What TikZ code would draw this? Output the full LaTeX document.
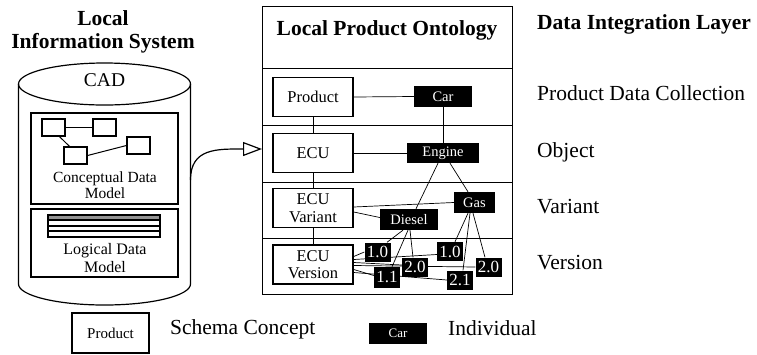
\documentclass[tikz,border=0pt]{standalone}
\usepackage{fontspec}
\setmainfont{Liberation Serif}
\usetikzlibrary{arrows.meta,backgrounds}
\newcommand{\fsz}[1]{\fontsize{#1}{1.07\dimexpr #1pt\relax}\selectfont}
\tikzset{
  schema/.style={draw, line width=1.5pt, minimum width=80, minimum height=39, inner sep=1pt, align=center, font=\fsz{16.5}},
  indiv/.style={fill=black, text=white, minimum height=21, inner sep=1pt, font=\fsz{14.5}},
  versn/.style={fill=black, text=white, minimum width=26, minimum height=19, inner sep=0pt, font=\fsz{17}},
  layer/.style={anchor=west, font=\fsz{21.5}, text height=1.45ex, text depth=.3ex, inner sep=0pt},
  smallbox/.style={draw, line width=1.2pt, minimum width=23, minimum height=17, inner sep=0pt},
  link/.style={line width=0.7pt}
}
\begin{document}
\begin{tikzpicture}[x=1pt,y=-1pt]
\useasboundingbox (0,0) rectangle (757,354);
% local system
\node[font=\bfseries\fontsize{21.5}{23}\selectfont, align=center] (lis) at (103,32) {Local\\Information System};
\draw[line width=1.2pt] (18.5,84) -- (18.5,284) arc[start angle=180, end angle=0, x radius=86, y radius=21] -- (190.5,84);
\draw[line width=1.2pt] (104.5,84) ellipse [x radius=86, y radius=21];
\node[font=\fsz{19.5}] (cad) at (104.5,80) {CAD};
\node[draw, line width=1.2pt, minimum width=147, minimum height=91] (cdm) at (104.5,158.5) {};
\node[draw, line width=1.2pt, minimum width=147, minimum height=68] (ldm) at (104.5,243) {};
\node[align=center, font=\fsz{15.5}] (cdmtxt) at (105,185) {Conceptual Data\\Model};
\node[align=center, font=\fsz{16}] (ldmtxt) at (105,258) {Logical Data\\Model};
\node[smallbox] (ca) at (53.5,127.5) {};
\node[smallbox] (cb) at (104.5,127.5) {};
\node[smallbox] (cc) at (138.5,145.5) {};
\node[smallbox] (cd) at (75.5,155.5) {};
\draw[line width=1pt] (ca.east) -- (cb.west);
\draw[line width=1pt] ([xshift=6]ca.south) -- ([xshift=-6]cd.north);
\draw[line width=1pt] (cd.east) -- (cc.west);
\fill[gray!85] (48,215) rectangle (160,220);
\draw[line width=1.3pt] (48,215) rectangle (160,237);
\foreach \y in {220,226,231}
  \draw[line width=1.3pt] (48,\y) -- (160,\y);
% ontology
\node[draw, line width=0.8pt, minimum width=250, minimum height=288, inner sep=0pt] (onto) at (387,150) {};
\foreach \y in {68,125,182,238}
  \draw[line width=0.8pt] (262,\y) -- (512,\y);
\node[font=\bfseries\fsz{21.5}] (ontotitle) at (387,30) {Local Product Ontology};
\coordinate (cadR) at (190.5,180);
\coordinate (ontoL) at (262,149);
\draw[line width=1.2pt, -{Triangle[open, length=19pt, width=14pt, line width=1.2pt]}] (cadR) .. controls +(0,-32) and +(-45,0) .. (ontoL);

\node[schema] (prod) at (313,97) {Product};
\node[schema] (ecu) at (313,153) {ECU};
\node[schema] (var) at (313,208) {ECU\\Variant};
\node[schema] (ver) at (313,264.5) {ECU\\Version};
\node[indiv, minimum width=58] (car) at (443,96.5) {Car};
\node[indiv, minimum width=72, minimum height=20] (engine) at (443,153) {Engine};
\node[indiv, minimum width=41] (gas) at (474.5,202.5) {Gas};
\node[indiv, minimum width=58] (diesel) at (409,219.5) {Diesel};
\node[versn] (v10a) at (377.5,252) {1.0};
\node[versn, minimum height=21] (v11) at (387,277.5) {1.1};
\node[versn] (v20a) at (415,267) {2.0};
\node[versn] (v10b) at (450,251.5) {1.0};
\node[versn] (v21) at (460,280) {2.1};
\node[versn] (v20b) at (488.5,267) {2.0};

\begin{pgfonlayer}{background}
\draw[link] (prod.east) -- (car.west);
\draw[link] (ecu.east) -- (engine.west);
\draw[link] (prod.south) -- (ecu.north);
\draw[link] (ecu.south) -- (var.north);
\draw[link] (var.south) -- (ver.north);
\draw[link] (car.south) -- (engine.north);
\draw[link] ([xshift=-5]engine.south) -- ([xshift=7]diesel.north);
\draw[link] ([xshift=7]engine.south) -- ([xshift=-6.5]gas.north);
\draw[link] ([yshift=1]var.east) -- (gas.west);
\draw[link] ([yshift=-4]var.east) -- ([yshift=2]diesel.west);
\draw[link] ([xshift=-6]diesel.south) -- ([xshift=9.5]v10a.north);
\draw[link] ([xshift=-1]diesel.south) -- ([xshift=5]v11.north);
\draw[link] ([xshift=1]diesel.south) -- ([xshift=-2]v20a.north);
\draw[link] ([xshift=-6.5]gas.south) -- ([xshift=5]v10b.north);
\draw[link] ([xshift=-4.5]gas.south) -- ([xshift=3]v21.north);
\draw[link] ([xshift=-1.5]gas.south) -- ([xshift=-3.5]v20b.north);
\draw[link] ([yshift=8]ver.east) -- (v10a.west);
\draw[link] ([yshift=5]ver.east) -- ([yshift=-3]v10b.west);
\draw[link] ([yshift=2]ver.east) -- ([yshift=2]v20a.west);
\draw[link] ([yshift=-1]ver.east) -- (v20b.west);
\draw[link] ([yshift=-5]ver.east) -- ([yshift=2]v11.west);
\draw[link] ([yshift=-8]ver.east) -- (v21.west);
\end{pgfonlayer}

% layers
\node[layer, font=\bfseries\fsz{21.5}] (dil) at (537,27) {Data Integration Layer};
\node[layer] (pdc) at (537,98) {Product Data Collection};
\node[layer] (obj) at (537,155) {Object};
\node[layer] (vrt) at (537,211) {Variant};
\node[layer] (vsn) at (537,267) {Version};

% legend
\node[schema, minimum width=77, minimum height=40, line width=1.3pt, font=\fsz{15}] (legprod) at (110.5,333) {Product};
\node[layer] (legschema) at (170,332) {Schema Concept};
\node[indiv, minimum width=58, font=\fsz{13}] (legcar) at (398,333.5) {Car};
\node[layer] (legind) at (448,333) {Individual};
\end{tikzpicture}
\end{document}
